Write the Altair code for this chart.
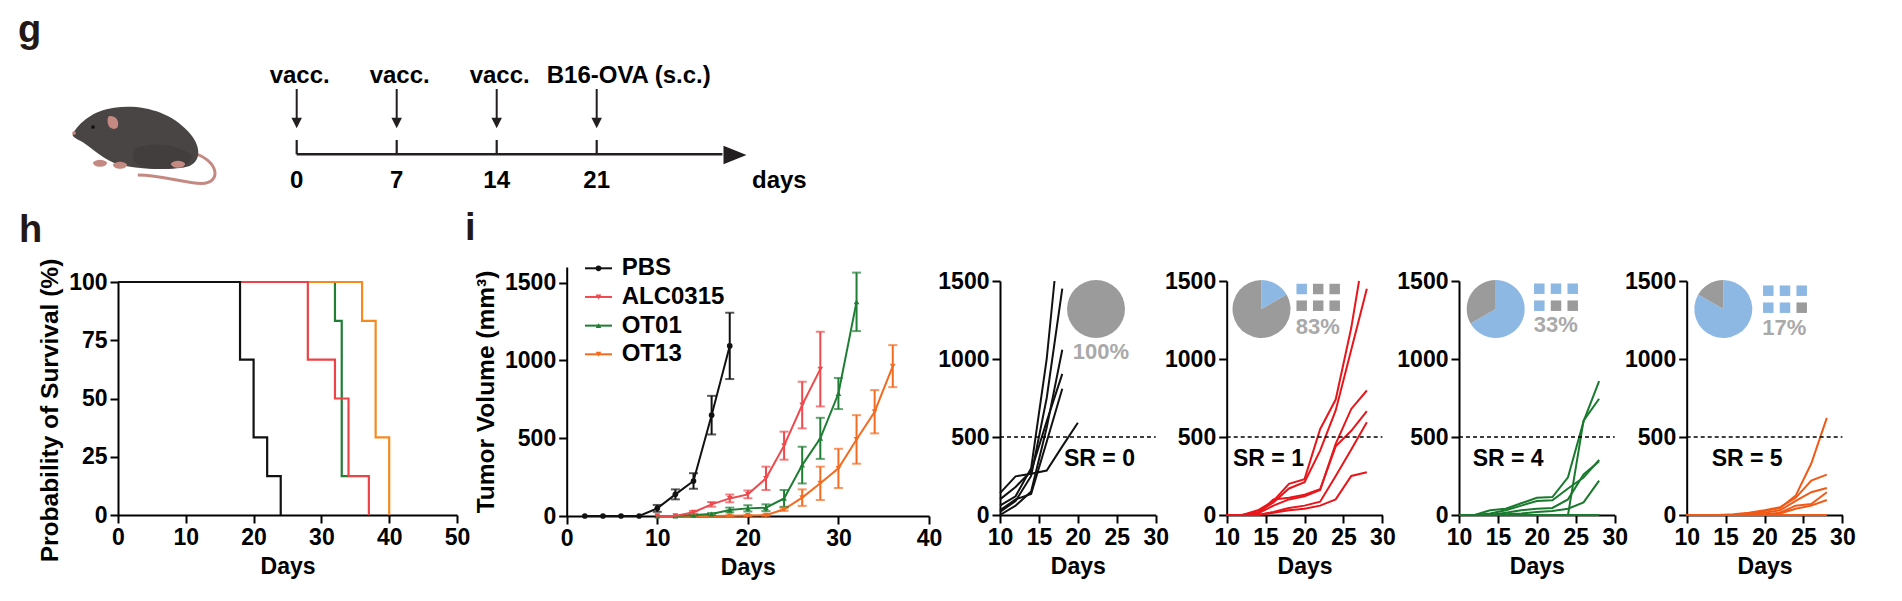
import altair as alt
import pandas as pd

# ---------------- data ----------------
timeline_days = [0, 7, 14, 21]
timeline_labels = ["vacc.", "vacc.", "vacc.", "B16-OVA (s.c.)"]

groups = ["PBS", "ALC0315", "OT01", "OT13"]

# survival (Kaplan-Meier steps)
surv_pbs_days = [0, 18, 20, 22, 24]
surv_pbs_pct = [100, 66.7, 33.3, 16.7, 0]
surv_alc_days = [0, 28, 32, 34, 37]
surv_alc_pct = [100, 66.7, 50, 16.7, 0]
surv_ot01_days = [0, 32, 33, 34]
surv_ot01_pct = [100, 83.3, 16.7, 16.7]
surv_ot13_days = [0, 36, 38, 40]
surv_ot13_pct = [100, 83.3, 33.3, 0]

# mean tumour volume +/- error
tv_pbs_days = [2, 4, 6, 8, 10, 12, 14, 16, 18]
tv_pbs_mean = [0, 0, 0, 0, 49, 139, 225, 648, 1093]
tv_pbs_err = [0, 0, 0, 0, 22, 32, 50, 124, 213]
tv_alc_days = [10, 12, 14, 16, 18, 20, 22, 24, 26, 28]
tv_alc_mean = [0, 0, 24, 75, 113, 139, 242, 452, 713, 944]
tv_alc_err = [0, 0, 8, 15, 25, 25, 75, 90, 150, 240]
tv_ot01_days = [10, 12, 14, 16, 18, 20, 22, 24, 26, 28, 30, 32]
tv_ot01_mean = [0, 0, 6, 13, 39, 49, 53, 113, 327, 499, 787, 1376]
tv_ot01_err = [0, 0, 3, 6, 15, 20, 22, 54, 118, 132, 100, 188]
tv_ot13_days = [10, 12, 14, 16, 18, 20, 22, 24, 26, 28, 30, 32, 34, 36]
tv_ot13_mean = [0, 0, 0, 0, 2, 3, 5, 43, 118, 210, 306, 492, 670, 963]
tv_ot13_err = [0, 0, 0, 0, 2, 3, 4, 10, 53, 107, 126, 156, 139, 135]

# individual mice (days and volumes per mouse)
ind_pbs_days = [[10, 12, 14, 16, 17], [10, 12, 14, 16, 18], [10, 12, 14, 16, 18],
                [10, 12, 14, 16, 18], [10, 12, 14, 16, 18], [10, 12, 14, 16, 18, 20]]
ind_pbs_vol = [[60, 120, 300, 1000, 1500], [20, 90, 250, 750, 1451], [0, 60, 150, 560, 1059],
               [100, 180, 280, 600, 905], [30, 100, 135, 470, 809], [140, 248, 265, 285, 440, 591]]
ind_alc_days = [[10, 12, 14, 16, 18, 20, 22, 24, 26, 27]] + [[10, 12, 14, 16, 18, 20, 22, 24, 26, 28]] * 5
ind_alc_vol = [[0, 0, 30, 90, 200, 230, 550, 740, 1200, 1500],
               [0, 0, 20, 80, 170, 210, 413, 670, 1060, 1451],
               [0, 0, 10, 60, 100, 120, 160, 456, 680, 798],
               [0, 0, 5, 100, 110, 130, 165, 440, 540, 666],
               [0, 0, 0, 20, 45, 60, 85, 250, 420, 595],
               [0, 0, 0, 15, 30, 40, 60, 100, 250, 274]]
ind_ot01_days = [[10, 12, 14, 16, 18, 20, 22, 24, 26, 28]] * 6
ind_ot01_vol = [[0, 0, 30, 40, 75, 110, 115, 242, 600, 858],
                [0, 0, 0, 0, 0, 0, 0, 0, 605, 745],
                [0, 0, 10, 30, 60, 90, 95, 170, 240, 353],
                [0, 0, 0, 15, 30, 40, 45, 100, 260, 345],
                [0, 0, 0, 5, 10, 20, 25, 40, 81, 220],
                [0, 0, 0, 0, 0, 0, 0, 0, 0, 0]]
ind_ot13_days = [[10, 12, 14, 16, 18, 20, 22, 24, 26, 28]] * 6
ind_ot13_vol = [[0, 0, 0, 0, 10, 25, 45, 124, 330, 623],
                [0, 0, 0, 5, 15, 30, 50, 110, 220, 259],
                [0, 0, 0, 0, 5, 15, 30, 90, 146, 173],
                [0, 0, 0, 0, 0, 5, 15, 60, 70, 146],
                [0, 0, 0, 0, 0, 0, 10, 40, 60, 96],
                [0, 0, 0, 0, 0, 0, 0, 0, 0, 0]]
threshold = [500]

# ---------------- style / layout ----------------
FONT = "Liberation Sans"
W, H = 1886, 585
DARK = "#231f20"
surv_colors = ["#111111", "#ec4446", "#1f7f35", "#f68a1f"]
tv_colors = ["#111111", "#ee4a4d", "#1e7e34", "#f36b21"]
tv_shapes = ["circle", "triangle-down", "triangle-up", "triangle-down"]
ind_colors = ["#111111", "#e8161b", "#197a2d", "#f05a16"]
BLUE, GREY, PCT_GREY = "#8db8e3", "#9b9b9b", "#a9a9a9"


def xaxis(values, y_bottom, title="Days"):
    return alt.Axis(values=values, title=title, orient="bottom", offset=y_bottom - H,
                    labelOverlap=False, labelFlush=False, format="d")


def yaxis(values, x_left, title="", **kw):
    return alt.Axis(values=values, title=title, orient="left", offset=-x_left,
                    labelOverlap=False, labelFlush=False, format="d", titleFontSize=24.5, **kw)


def text_at(txt, x, y, size=23, color="black", align="left", baseline="alphabetic"):
    return alt.Chart(pd.DataFrame({"t": [txt]})).mark_text(
        font=FONT, fontWeight="bold", fontSize=size, color=color, align=align,
        baseline=baseline).encode(text="t:N", x=alt.value(x), y=alt.value(y))


def shape_at(path, x, y, size, color, filled=True, sw=2.0):
    return alt.Chart(pd.DataFrame({"a": [0]})).mark_point(
        shape=path, size=size, filled=filled, color=color, opacity=1,
        strokeWidth=sw).encode(x=alt.value(x), y=alt.value(y))


layers = []

# ---------------- panel letters ----------------
for letter, lx, ly in [("g", 10, 34), ("h", 11, 234), ("i", 457, 232)]:
    layers.append(text_at(letter, lx, ly, size=38, color="#231815"))

# ---------------- mouse illustration ----------------
BODY = ("M-0.88,-0.1 C-0.8,-0.24 -0.6,-0.42 -0.3,-0.46 C0.05,-0.52 0.5,-0.42 0.76,-0.12 "
        "C0.95,0.08 0.95,0.3 0.78,0.37 C0.55,0.44 0.1,0.42 -0.2,0.36 "
        "C-0.45,0.3 -0.6,0.12 -0.75,0.03 C-0.84,-0.02 -0.92,-0.05 -0.88,-0.1 Z")
SHADE = ("M0.0,0.12 C0.25,0.02 0.6,0.06 0.82,0.22 C0.82,0.34 0.6,0.41 0.3,0.41 "
         "C0.05,0.41 -0.1,0.3 0.0,0.12 Z")
TAIL = "M0.8,0.18 C1.2,0.27 1.25,0.62 0.95,0.62 C0.7,0.62 0.4,0.5 0.04,0.5"
FOOT = "M-1,-0.5 C-0.5,-1 0.5,-1 1,-0.5 C1,0.3 -1,0.3 -1,-0.5 Z"
EAR = "M-0.6,-1 C0.4,-1 0.8,-0.2 0.5,0.6 C0.2,1 -0.6,0.9 -0.8,0.3 C-1,-0.3 -0.9,-1 -0.6,-1 Z"
PINK = "#c48a82"
layers.append(shape_at(TAIL, 127, 132, 19600, PINK, filled=False, sw=3))
layers.append(shape_at(BODY, 127, 132, 19600, "#4a4545"))
layers.append(shape_at(SHADE, 127, 132, 19600, "#433e3e"))
layers.append(shape_at(EAR, 106, 115, 200, PINK))
layers.append(shape_at("circle", 85, 119, 14, "#111111"))
layers.append(shape_at("circle", 66, 125, 14, PINK))
for fx, fy in [(92, 158), (112, 160), (170, 159)]:
    layers.append(shape_at(FOOT, fx, fy, 200, PINK))

# ---------------- timeline (g) ----------------
tl_df = pd.DataFrame({"day": timeline_days, "label": timeline_labels})
tl_x = alt.Scale(domain=[0, 21], range=[288.7, 588.7], nice=False, zero=False)
tl_base = alt.Chart(tl_df)
tl_pos = alt.X("day:Q", scale=tl_x, axis=None)
one = pd.DataFrame({"a": [0]})
layers += [
    alt.Chart(one).mark_rule(strokeWidth=2.5, color=DARK).encode(
        x=alt.X(datum=0, scale=tl_x, axis=None), x2=alt.X2(datum=29.8), y=alt.value(146.3)),
    tl_base.mark_rule(strokeWidth=2.2, color=DARK).encode(x=tl_pos, y=alt.value(132), y2=alt.value(146.3)),
    tl_base.mark_rule(strokeWidth=2, color=DARK).encode(x=tl_pos, y=alt.value(81), y2=alt.value(112)),
    tl_base.mark_point(shape="M-1,-1L1,-1L0,1Z", filled=True, size=110, color=DARK, opacity=1).encode(
        x=tl_pos, y=alt.value(115)),
    tl_base.transform_filter(alt.datum.day < 21).mark_text(
        font=FONT, fontWeight="bold", fontSize=24, color="black", baseline="alphabetic", dx=3).encode(
        x=tl_pos, y=alt.value(75), text="label:N"),
    tl_base.transform_filter(alt.datum.day == 21).mark_text(
        font=FONT, fontWeight="bold", fontSize=24, color="black", baseline="alphabetic",
        align="left", dx=-50).encode(x=tl_pos, y=alt.value(75), text="label:N"),
    tl_base.mark_text(font=FONT, fontWeight="bold", fontSize=24, color="black",
                      baseline="alphabetic").encode(x=tl_pos, y=alt.value(180), text="day:Q"),
    alt.Chart(one).mark_point(shape="M-1,-0.8L1,0L-1,0.8Z", filled=True, size=529,
                              color=DARK, opacity=1).encode(
        x=alt.X(datum=30.68, scale=tl_x, axis=None), y=alt.value(147)),
]
layers.append(text_at("days", 744, 180, size=24))

# ---------------- survival (h) ----------------
surv_sets = [(surv_pbs_days, surv_pbs_pct), (surv_alc_days, surv_alc_pct),
             (surv_ot01_days, surv_ot01_pct), (surv_ot13_days, surv_ot13_pct)]
sx = alt.Scale(domain=[0, 50], range=[110, 449], nice=False, zero=False)
sy = alt.Scale(domain=[0, 100], range=[507, 274], nice=False)
first = True
for gi in [2, 3, 1, 0]:  # draw order: OT01, OT13, ALC0315, PBS on top
    d, p = surv_sets[gi]
    df = pd.DataFrame({"day": d, "pct": p})
    layers.append(alt.Chart(df).mark_line(
        interpolate="step-after", strokeWidth=2.2, color=surv_colors[gi]).encode(
        x=alt.X("day:Q", scale=sx, axis=xaxis([0, 10, 20, 30, 40, 50], 507) if first else None),
        y=alt.Y("pct:Q", scale=sy,
                axis=yaxis([0, 25, 50, 75, 100], 110, "Probability of Survival (%)", titleY=402)
                if first else None)))
    first = False

# ---------------- tumour volume (i) ----------------
tv_sets = [(tv_pbs_days, tv_pbs_mean, tv_pbs_err), (tv_alc_days, tv_alc_mean, tv_alc_err),
           (tv_ot01_days, tv_ot01_mean, tv_ot01_err), (tv_ot13_days, tv_ot13_mean, tv_ot13_err)]
rows = []
for gi in [3, 2, 1, 0]:
    d, m, e = tv_sets[gi]
    for dd, mm, ee in zip(d, m, e):
        rows.append({"group": groups[gi], "day": dd, "mean": mm, "err": ee,
                     "lo": mm - ee, "hi": mm + ee})
tv_df = pd.DataFrame(rows)
tx = alt.Scale(domain=[0, 40], range=[558.7, 921], nice=False, zero=False)
ty = alt.Scale(domain=[0, 1600], range=[508, 259], nice=False)
tcol = alt.Color("group:N", scale=alt.Scale(domain=groups, range=tv_colors), legend=None)
tshape = alt.Shape("group:N", scale=alt.Scale(domain=groups, range=tv_shapes), legend=None)
tbase = alt.Chart(tv_df)
txe = alt.X("day:Q", scale=tx, axis=None)
err_base = tbase.transform_filter(alt.datum.err > 0)
layers += [
    tbase.mark_line(strokeWidth=2).encode(
        x=alt.X("day:Q", scale=tx, axis=xaxis([0, 10, 20, 30, 40], 508)),
        y=alt.Y("mean:Q", scale=ty, axis=yaxis([0, 500, 1000, 1500], 558.7, "Tumor Volume (mm³)")),
        color=tcol),
    err_base.mark_rule(strokeWidth=2).encode(
        x=txe, y=alt.Y("lo:Q", scale=ty, axis=None), y2="hi:Q", color=tcol),
    err_base.mark_tick(orient="horizontal", size=9, thickness=2).encode(
        x=txe, y=alt.Y("hi:Q", scale=ty, axis=None), color=tcol),
    err_base.mark_tick(orient="horizontal", size=9, thickness=2).encode(
        x=txe, y=alt.Y("lo:Q", scale=ty, axis=None), color=tcol),
    tbase.mark_point(filled=True, size=32, opacity=1).encode(
        x=txe, y=alt.Y("mean:Q", scale=ty, axis=None), color=tcol, shape=tshape),
]

# legend for (i)
leg_df = pd.DataFrame({"group": groups})
ly = alt.Y("group:N", scale=alt.Scale(type="point", domain=groups, range=[260.3, 346.3], padding=0),
           axis=None)
layers += [
    alt.Chart(leg_df).mark_rule(strokeWidth=2).encode(
        x=alt.value(577), x2=alt.value(604), y=ly, color=tcol),
    alt.Chart(leg_df).mark_point(filled=True, size=32, opacity=1).encode(
        x=alt.value(590.5), y=ly, color=tcol, shape=tshape),
    alt.Chart(leg_df).mark_text(font=FONT, fontWeight="bold", fontSize=24, color="black",
                                align="left", baseline="middle").encode(
        x=alt.value(613.7), y=ly, text="group:N"),
]

# ---------------- individual panels ----------------
ind_sets = [(ind_pbs_days, ind_pbs_vol), (ind_alc_days, ind_alc_vol),
            (ind_ot01_days, ind_ot01_vol), (ind_ot13_days, ind_ot13_vol)]
panel_x = [992, 1218.7, 1451, 1678.7]
PW = 155.7
pie_c = [(1088, 301), (1253.5, 301), (1487.7, 301), (1715.3, 301)]
pct_pos = [(1093, 343.7), (1309.8, 318.7), (1547.7, 317), (1776.3, 320.3)]
grid_pos = [None, (1293.7, 281, 16.5, 16.7), (1531.3, 280.7, 16.7, 17), (1760.3, 282.7, 16.7, 17)]
sr_x = [1056, 1225, 1464.7, 1703.7]
thr_df = pd.DataFrame({"t": threshold})

for gi in range(4):
    days_list, vols = ind_sets[gi]
    rows = []
    for mi, (dl, vl) in enumerate(zip(days_list, vols)):
        for dd, vv in zip(dl, vl):
            rows.append({"mouse": mi, "day": dd, "vol": vv})
    idf = pd.DataFrame(rows)
    x0 = panel_x[gi]
    px = alt.Scale(domain=[10, 30], range=[x0, x0 + PW], nice=False, zero=False)
    py = alt.Scale(domain=[0, 1500], range=[507, 273], nice=False)
    last = [vl[-1] for vl in vols]
    sr = sum(1 for v in last if v < threshold[0])
    n = len(last)
    pct = round(100 * (n - sr) / n)

    layers.append(alt.Chart(idf).mark_line(strokeWidth=2, color=ind_colors[gi]).encode(
        x=alt.X("day:Q", scale=px, axis=xaxis([10, 15, 20, 25, 30], 507)),
        y=alt.Y("vol:Q", scale=py, axis=yaxis([0, 500, 1000, 1500], x0)),
        detail="mouse:N"))
    layers.append(alt.Chart(thr_df).mark_rule(strokeDash=[4, 3], strokeWidth=1.3, color="black").encode(
        x=alt.X(datum=10, scale=px, axis=None), x2=alt.X2(datum=30),
        y=alt.Y("t:Q", scale=py, axis=None)))
    layers.append(text_at(f"SR = {sr}", sr_x[gi], 451, size=23, baseline="middle"))

    # pie: share of mice below (blue) / above (grey) 500 mm3
    pie_df = pd.DataFrame({"part": ["resp", "non"], "n": [sr, n - sr], "k": [0, 1]})
    cx, cy = pie_c[gi]
    layers.append(alt.Chart(pie_df).mark_arc(radius=29).encode(
        theta=alt.Theta("n:Q", stack=True),
        order=alt.Order("k:Q"),
        color=alt.Color("part:N", scale=alt.Scale(domain=["resp", "non"], range=[BLUE, GREY]), legend=None),
        x=alt.value(cx), y=alt.value(cy)))
    tpx, tpy = pct_pos[gi]
    layers.append(text_at(f"{pct}%", tpx, tpy, size=22, color=PCT_GREY, align="center", baseline="middle"))

    if grid_pos[gi] is not None:
        gx, gy, dxs, dys = grid_pos[gi]
        gdf = pd.DataFrame({"i": list(range(n))})
        gdf["col"] = gdf["i"] % 3
        gdf["row"] = gdf["i"] // 3
        gdf["status"] = ["resp" if i < sr else "non" for i in gdf["i"]]
        layers.append(alt.Chart(gdf).mark_square(size=110, opacity=1).encode(
            x=alt.X("col:Q", scale=alt.Scale(domain=[0, 2], range=[gx, gx + 2 * dxs], nice=False, zero=False),
                    axis=None),
            y=alt.Y("row:Q", scale=alt.Scale(domain=[0, 1], range=[gy, gy + dys], nice=False, zero=False),
                    axis=None),
            color=alt.Color("status:N", scale=alt.Scale(domain=["resp", "non"], range=[BLUE, GREY]),
                            legend=None)))

chart = alt.layer(*layers).resolve_scale(
    x="independent", y="independent", color="independent", shape="independent", theta="independent"
).resolve_axis(x="independent", y="independent").properties(
    width=W, height=H, padding=0, autosize=alt.AutoSizeParams(type="none")
).configure_view(stroke=None).configure_axis(
    domainColor="black", domainWidth=2, tickColor="black", tickWidth=2, tickSize=8,
    labelFont=FONT, labelFontSize=23, labelFontWeight="bold", labelColor="black", labelPadding=3,
    titleFont=FONT, titleFontSize=23, titleFontWeight="bold", titleColor="black", titlePadding=6,
    grid=False
)

chart.save("out.html", embed_options={"renderer": "svg", "actions": False})
